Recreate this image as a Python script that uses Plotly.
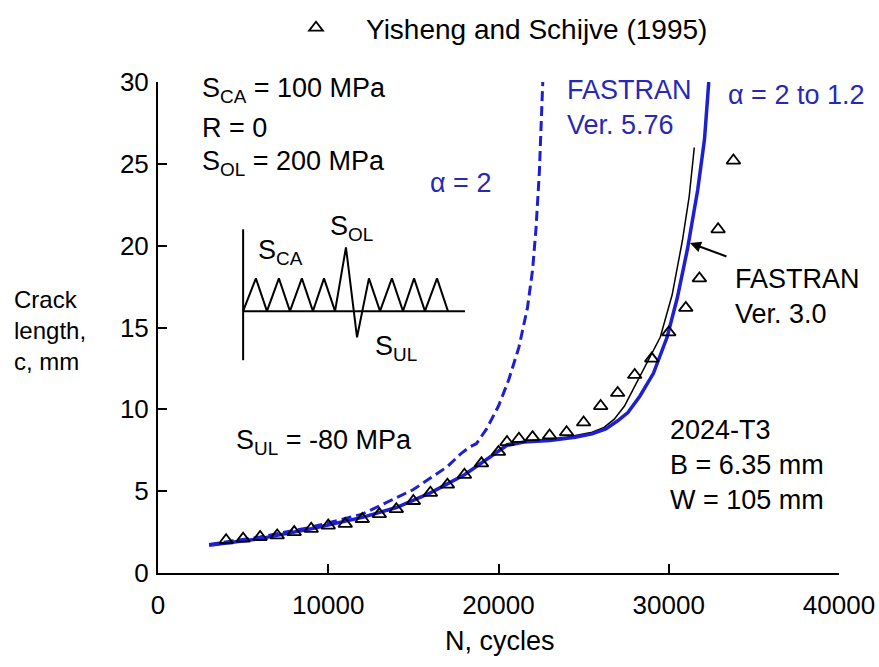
import plotly.graph_objects as go

# ---- data ----
exp_n = [4000, 5000, 6000, 7000, 8000, 9000, 10000, 11000, 12000, 13000, 14000, 15000,
         16000, 17000, 18000, 19000, 20000, 20500, 21200, 22000, 23000, 24000, 25000,
         26000, 27000, 28000, 29000, 30000, 31000, 31800, 32900, 33800]
exp_c = [2.0, 2.1, 2.2, 2.3, 2.5, 2.7, 2.9, 3.0, 3.3, 3.6, 3.9, 4.4,
         4.9, 5.4, 6.0, 6.7, 7.4, 8.0, 8.2, 8.3, 8.4, 8.6, 9.2,
         10.2, 11.0, 12.1, 13.1, 14.7, 16.2, 18.0, 21.0, 25.2]

a2_n = [3000, 6000, 9000, 12000, 14000, 15000, 16000, 17000, 17800, 18300, 18700,
        19300, 20000, 20600, 21200, 21700, 22000, 22200, 22400, 22600]
a2_c = [1.75, 2.2, 2.8, 3.6, 4.6, 5.1, 5.8, 6.5, 7.3, 7.7, 7.9,
        8.8, 10.2, 11.8, 13.8, 16.2, 18.5, 21.0, 24.5, 30.0]

v576_n = [3000, 6000, 9000, 12000, 14000, 16000, 18000, 19000, 20000, 20500, 21500,
          23000, 24500, 25500, 26300, 27000, 27600, 28300, 29100, 29900, 30500,
          31100, 31700, 32100, 32350]
v576_c = [1.7, 2.1, 2.7, 3.4, 4.0, 4.9, 6.0, 6.7, 7.4, 7.8, 8.0,
          8.1, 8.3, 8.5, 8.8, 9.3, 9.8, 10.8, 12.2, 14.4, 16.8,
          19.8, 23.4, 26.5, 30.0]

v30_n = [3000, 6000, 9000, 12000, 14000, 16000, 18000, 20000, 20500, 22000, 24000,
         25500, 26200, 26800, 27400, 27900, 28700, 29500, 30200, 30800, 31200, 31500]
v30_c = [1.7, 2.1, 2.7, 3.4, 4.0, 4.9, 6.0, 7.5, 7.9, 8.1, 8.3,
         8.6, 8.9, 9.4, 10.2, 11.2, 12.8, 14.4, 17.0, 20.3, 23.0, 26.0]

# schematic load sequence (inset), in axis units
wave_n = [5000, 5750, 6400, 7100, 7750, 8450, 9100, 9750, 10400, 11040, 11690,
          12390, 13040, 13740, 14390, 15040, 15680, 16390, 17030]
wave_s = [16.0, 18.0, 16.0, 18.0, 16.0, 18.0, 16.0, 18.0, 16.0, 19.9, 14.4,
          18.0, 16.0, 18.0, 16.0, 18.0, 16.0, 18.0, 16.0]
wave_base_n = [5000, 18030]
wave_base_s = [16.0, 16.0]
wave_axis_n = [5000, 5000]
wave_axis_s = [13.0, 21.0]

BLUE = "#1e1ed2"
TBLUE = "#2828b4"
FONT = "Arial, Liberation Sans, sans-serif"
FS = 27
TFS = 26

L, R, T, B = 158, 839, 82, 573
W, H = 879, 667


def px(x, y):
    return (x - L) / (R - L), (B - y) / (B - T)


fig = go.Figure()
fig.add_trace(go.Scatter(x=a2_n, y=a2_c, mode="lines",
                         line=dict(color=BLUE, width=3, dash="10px,5px"), showlegend=False))
fig.add_trace(go.Scatter(x=v30_n, y=v30_c, mode="lines", line=dict(color="black", width=1.5),
                         showlegend=False))
fig.add_trace(go.Scatter(x=v576_n, y=v576_c, mode="lines", line=dict(color=BLUE, width=3.5),
                         showlegend=False))
fig.add_trace(go.Scatter(x=exp_n, y=exp_c, mode="markers", name="Yisheng and Schijve (1995)",
                         marker=dict(symbol="triangle-up-open", size=12, color="black",
                                     line=dict(width=1.8, color="black"))))
for xs, ys in ((wave_n, wave_s), (wave_base_n, wave_base_s), (wave_axis_n, wave_axis_s)):
    fig.add_trace(go.Scatter(x=xs, y=ys, mode="lines", line=dict(color="black", width=2),
                             showlegend=False, hoverinfo="skip"))

ann = []


def text(x, y, s, color="black", anchor="left", size=FS):
    xp, yp = px(x, y)
    ann.append(dict(x=xp, y=yp, xref="paper", yref="paper", text=s, showarrow=False,
                    xanchor=anchor, yanchor="middle", align="left",
                    font=dict(family=FONT, size=size, color=color)))


text(200, 90, "S<sub>CA</sub> = 100 MPa")
text(200, 128, "R = 0")
text(200, 163, "S<sub>OL</sub> = 200 MPa")
text(428, 183, "\u03b1 = 2", color=TBLUE)
text(565, 108, "FASTRAN<br>Ver. 5.76", color=TBLUE)
text(726, 95, "\u03b1 = 2 to 1.2", color=TBLUE)
text(733, 296, "FASTRAN<br>Ver. 3.0")
text(668, 465, "2024-T3<br>B = 6.35 mm<br>W = 105 mm")
text(234, 442, "S<sub>UL</sub> = -80 MPa")
text(256, 252, "S<sub>CA</sub>")
text(328, 228, "S<sub>OL</sub>")
text(373, 348, "S<sub>UL</sub>")
text(12, 330, "Crack<br>length,<br>c, mm", size=24)
text(500, 641, "N, cycles", anchor="center")

# arrow pointing at Ver. 3.0 curve
ax1, ay1 = px(690, 243)
ann.append(dict(x=ax1, y=ay1, xref="paper", yref="paper", ax=38, ay=14, axref="pixel",
                ayref="pixel", text="", showarrow=True, arrowhead=2, arrowsize=1.1,
                arrowwidth=2, arrowcolor="black"))

fig.update_layout(
    width=W, height=H,
    margin=dict(l=L, r=W - R, t=T, b=H - B, autoexpand=False),
    paper_bgcolor="white", plot_bgcolor="white",
    font=dict(family=FONT, size=FS, color="black"),
    annotations=ann,
    showlegend=True,
    legend=dict(xref="container", yref="container", x=266 / W, y=(H - 28) / H,
                xanchor="left", yanchor="middle", bgcolor="rgba(0,0,0,0)",
                font=dict(family=FONT, size=28), itemwidth=90),
    xaxis=dict(range=[0, 40000], tickvals=[0, 10000, 20000, 30000, 40000],
               ticktext=["0", "10000", "20000", "30000", "40000"], automargin=False,
               showgrid=False, zeroline=False, showline=True, linecolor="black", linewidth=2,
               ticks="inside", ticklen=9, tickwidth=2, tickcolor="black",
               ticklabelstandoff=8, tickfont=dict(family=FONT, size=TFS)),
    yaxis=dict(range=[0, 30], tickvals=[0, 5, 10, 15, 20, 25, 30],
               ticktext=["0", "5", "10", "15", "20", "25", "30"], automargin=False,
               showgrid=False, zeroline=False, showline=True, linecolor="black", linewidth=2,
               ticks="inside", ticklen=9, tickwidth=2, tickcolor="black",
               ticklabelstandoff=2, tickfont=dict(family=FONT, size=TFS)),
)

fig.write_html("out.html")
